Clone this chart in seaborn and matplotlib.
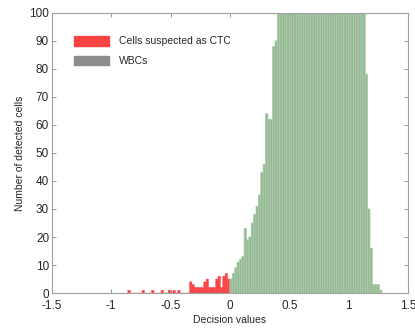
import numpy as np
import pandas as pd
import seaborn as sns
import matplotlib.pyplot as plt
from matplotlib.patches import Patch

sns.set_style("white")
plt.rcParams['font.family'] = ['Liberation Sans', 'DejaVu Sans']

# histogram counts, bin width 0.02 (left edges)
ctc_left = [-0.86, -0.74, -0.66, -0.58, -0.52, -0.48, -0.44,
            -0.34, -0.32, -0.30, -0.28, -0.26, -0.24, -0.22, -0.20, -0.18,
            -0.16, -0.14, -0.12, -0.10, -0.08, -0.06, -0.04, -0.02]
ctc_counts = [1, 1, 1, 1, 1, 1, 1,
              4, 3, 2, 2, 2, 2, 4, 5, 2,
              2, 2, 5, 6, 2, 6, 7, 5]

wbc_left = np.round(np.arange(0, 1.27, 0.02), 2)
wbc_counts = [5, 7, 9, 11, 12, 13, 23, 19, 20, 25, 28, 31, 35, 43, 46, 64, 62, 62, 88, 90,
              # 0.40 - 1.12 run off the top of the axis
              108, 115, 124, 130, 137, 142, 150, 155, 161, 166,
              170, 174, 178, 181, 184, 186, 188, 189, 190, 190,
              189, 188, 186, 183, 180, 176, 171, 166, 160, 153,
              146, 138, 130, 121, 113, 106, 102,
              78, 30, 16, 3, 3, 3, 1]

ctc = pd.DataFrame({"value": np.array(ctc_left) + 0.01, "count": ctc_counts})
wbc = pd.DataFrame({"value": wbc_left + 0.01, "count": wbc_counts})

red = "#fa4444"
gray = "#a2afa0"
green = "#98d998"

fig = plt.figure(figsize=(4.15, 3.3), dpi=100)
ax = fig.add_axes([0.125, 0.112, 0.858, 0.849])

sns.histplot(data=ctc, x="value", weights="count", binwidth=0.02, binrange=(-0.86, 0.0),
             color=red, edgecolor=red, linewidth=0.3, alpha=1, ax=ax)
sns.histplot(data=wbc, x="value", weights="count", binwidth=0.02, binrange=(0.0, 1.28),
             color=gray, edgecolor=green, linewidth=0.55, alpha=1, ax=ax)
# no pixel snapping, so the thin bars keep an even width
for p in ax.patches:
    p.set_snap(False)

ax.set_xlim(-1.5, 1.5)
ax.set_ylim(0, 100)
ax.set_xticks([-1.5, -1, -0.5, 0, 0.5, 1, 1.5])
ax.set_xticklabels(["-1.5", "-1", "-0.5", "0", "0.5", "1", "1.5"])
ax.set_yticks(range(0, 101, 10))
ax.tick_params(direction="in", length=3, width=0.6, color="#888888",
               labelsize=8.5, labelcolor="#262626", top=True, right=True,
               bottom=True, left=True, pad=2)
ax.tick_params(axis="x", pad=5)
for s in ax.spines.values():
    s.set_color("#a0a0a0")
    s.set_linewidth(0.8)

ax.set_xlabel("Decision values", fontsize=7.5, color="#262626", labelpad=2)
ax.set_ylabel("Number of detected cells", fontsize=7.5, color="#262626", labelpad=3)

handles = [Patch(facecolor=red, edgecolor=red), Patch(facecolor="#8c8c8c", edgecolor="#8c8c8c")]
ax.legend(handles, ["Cells suspected as CTC", "WBCs"], loc="upper left",
          bbox_to_anchor=(0.035, 0.95), frameon=False, fontsize=7.5,
          handlelength=3.4, handleheight=1.0, handletextpad=0.9, labelspacing=0.9)

fig.savefig("out.png", dpi=100)
